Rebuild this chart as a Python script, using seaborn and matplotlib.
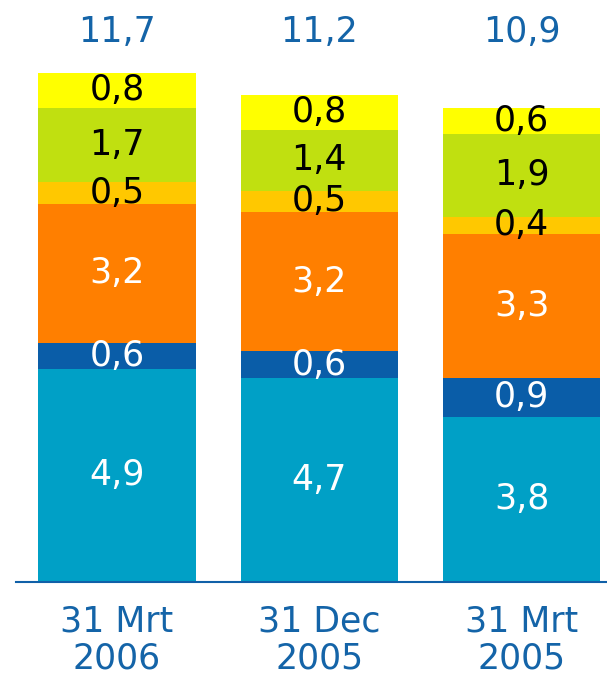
import matplotlib.pyplot as plt
import seaborn as sns
import pandas as pd
import numpy as np

sns.set_theme(style='white')
plt.rcParams['font.family'] = ['DejaVu Sans']

# data
categories = ['31 Mrt\n2006', '31 Dec\n2005', '31 Mrt\n2005']
teal = [4.9, 4.7, 3.8]
darkblue = [0.6, 0.6, 0.9]
orange = [3.2, 3.2, 3.3]
gold = [0.5, 0.5, 0.4]
lime = [1.7, 1.4, 1.9]
yellow = [0.8, 0.8, 0.6]
totals = [11.7, 11.2, 10.9]

layers = [teal, darkblue, orange, gold, lime, yellow]
colors = ['#00A0C6', '#0A5DA8', '#FF7F00', '#FFC800', '#C0E010', '#FFFF00']
text_colors = ['white', 'white', 'white', 'black', 'black', 'black']
blue_txt = '#1464A8'
fs = 25

cum = np.cumsum(np.array(layers), axis=0)

fig = plt.figure(figsize=(6.07, 6.76), dpi=100)
ax = fig.add_axes([0, 94 / 676, 1, 582 / 676])

# cumulatieve balken van boven naar beneden tekenen -> gestapeld
for i in range(len(layers) - 1, -1, -1):
    df = pd.DataFrame({'cat': categories, 'val': cum[i]})
    sns.barplot(data=df, x='cat', y='val', color=colors[i], width=0.777,
                saturation=1, linewidth=0, ax=ax)

# labels in de segmenten
for i, layer in enumerate(layers):
    base = cum[i] - np.array(layer)
    for j, v in enumerate(layer):
        ax.text(j, base[j] + v / 2, f'{v:.1f}'.replace('.', ','),
                ha='center', va='center', fontsize=fs, color=text_colors[i])

# totalen
for j, t in enumerate(totals):
    ax.text(j, 12.64, f'{t:.1f}'.replace('.', ','), ha='center', va='center',
            fontsize=fs, color=blue_txt)

ax.set_xlim(-0.5785, 2.4227)
ax.set_ylim(0, 13.38)
ax.set_xlabel('')
ax.set_ylabel('')
ax.set_yticks([])
for s in ['top', 'right', 'left']:
    ax.spines[s].set_visible(False)
ax.spines['bottom'].set_color('#1060A8')
ax.spines['bottom'].set_linewidth(1.5)
ax.spines['bottom'].set_bounds(-0.499, 2.4227)
ax.tick_params(axis='x', length=0, pad=16, labelsize=fs, labelcolor=blue_txt)
for lbl in ax.get_xticklabels():
    lbl.set_linespacing(1.12)

fig.savefig('out.png', dpi=100)
